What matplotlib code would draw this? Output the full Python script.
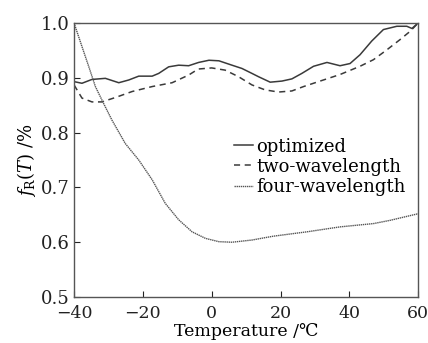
import matplotlib
matplotlib.use("Agg")
import matplotlib.pyplot as plt

plt.rcParams['font.family'] = ['DejaVu Serif', 'DejaVu Sans']
plt.rcParams['mathtext.fontset'] = 'dejavuserif'

opt_T = [-40, -37.7, -34.8, -30.9, -27, -24.1, -21.2, -17.3, -15.4, -12.5, -9.6, -6.7, -3.8, -0.8,
         2.1, 5.9, 8.8, 11.7, 13.6, 17, 20.4, 23.3, 26.2, 29.6, 33.5, 37.3, 40.2, 43.1, 46.5, 49.9,
         53.8, 56.7, 58.2, 60]
opt_v = [0.893, 0.890, 0.897, 0.899, 0.891, 0.896, 0.903, 0.903, 0.908, 0.920, 0.923, 0.922, 0.928,
         0.932, 0.931, 0.923, 0.917, 0.908, 0.902, 0.892, 0.894, 0.898, 0.908, 0.921, 0.928, 0.922,
         0.926, 0.942, 0.967, 0.988, 0.994, 0.994, 0.990, 1.0]

two_T = [-40, -37.7, -34.8, -31.9, -28, -23.1, -17.3, -11.5, -6.7, -3.9, 0, 3.9, 7.8, 11.7, 15.5,
         19.4, 23.3, 26.7, 31.5, 37.3, 43.1, 47, 50.9, 54.8, 57.7, 60]
two_v = [0.887, 0.863, 0.856, 0.856, 0.864, 0.875, 0.884, 0.891, 0.905, 0.916, 0.918, 0.914, 0.902,
         0.887, 0.878, 0.874, 0.876, 0.884, 0.894, 0.906, 0.921, 0.933, 0.951, 0.970, 0.985, 1.0]

four_T = [-40, -37.7, -35.7, -33.8, -31.4, -29, -25.1, -21.2, -17.3, -13.5, -9.6, -5.7, -1.8, 2.1,
          5.9, 11.7, 17.9, 27.7, 37.3, 47, 51.9, 60]
four_v = [1.0, 0.957, 0.920, 0.884, 0.853, 0.823, 0.780, 0.750, 0.714, 0.671, 0.641, 0.619, 0.607,
          0.601, 0.600, 0.604, 0.611, 0.619, 0.628, 0.634, 0.640, 0.652]

labels = ['optimized', 'two-wavelength', 'four-wavelength']

fig = plt.figure(figsize=(4.28, 3.43), dpi=100)
ax = fig.add_axes([0.173, 0.134, 0.804, 0.799])
c = '#3a3a3a'
ax.plot(opt_T, opt_v, color=c, lw=1.1, label=labels[0])
ax.plot(two_T, two_v, color=c, lw=1.1, ls=(0, (4, 3)), label=labels[1])
ax.plot(four_T, four_v, color='#555555', lw=1.0, ls=(0, (1, 0.5)), label=labels[2])

ax.set_xlim(-40, 60)
ax.set_ylim(0.5, 1.0)
ax.set_xticks([-40, -20, 0, 20, 40, 60])
ax.set_yticks([0.5, 0.6, 0.7, 0.8, 0.9, 1.0])
ax.set_xticklabels(['\u221240', '\u221220', '0', '20', '40', '60'])
ax.set_yticklabels(['0.5', '0.6', '0.7', '0.8', '0.9', '1.0'])
ax.tick_params(direction='in', length=4, width=0.8, labelsize=13, colors='#222222', pad=3)
ax.tick_params(axis='x', labelsize=12.5, pad=6)
for s in ax.spines.values():
    s.set_color('#555555')
    s.set_linewidth(1.0)

ax.set_xlabel('Temperature /\u2103', fontsize=12.5, labelpad=0.5)
ax.set_ylabel(r'$f_{\mathrm{R}}(T)$ /%', fontsize=13, labelpad=2)

ax.legend(loc='upper left', bbox_to_anchor=(0.44, 0.615), frameon=False, fontsize=13,
          handlelength=1.0, handletextpad=0.2, labelspacing=0.12, borderpad=0)

fig.savefig('out.png', dpi=100)
